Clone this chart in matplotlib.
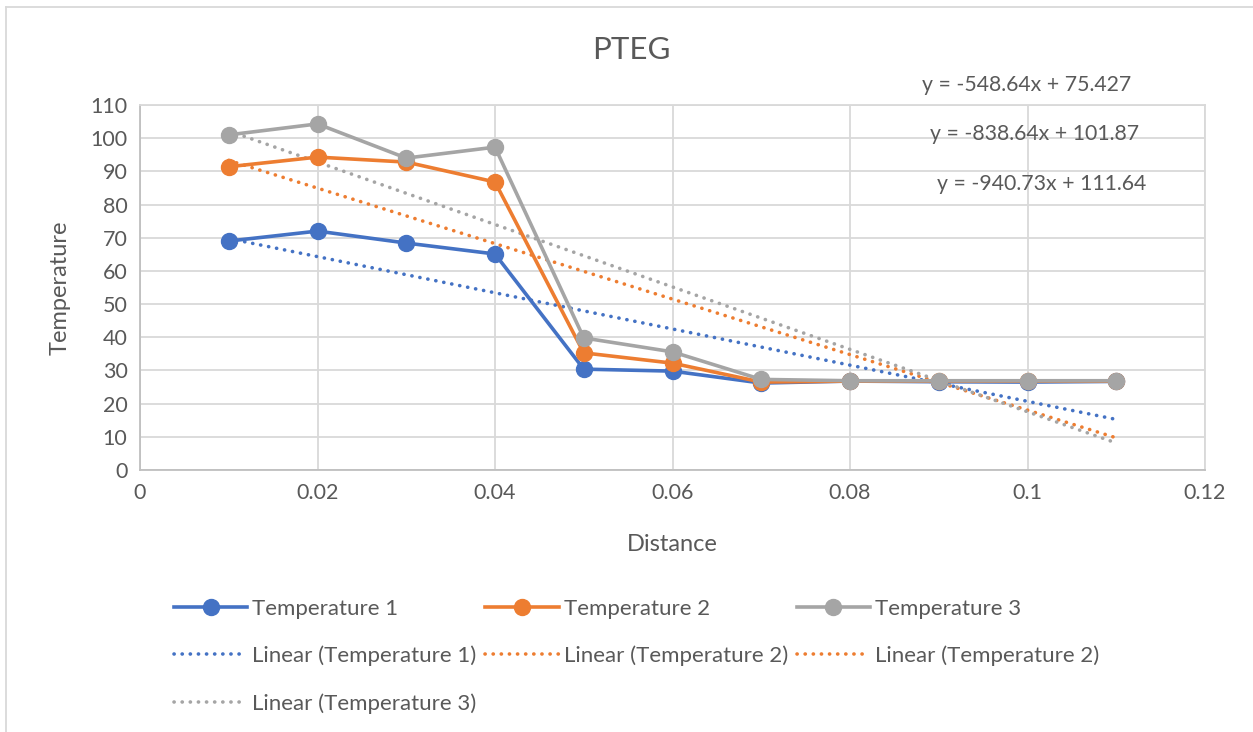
import matplotlib
matplotlib.use("Agg")
import matplotlib.pyplot as plt
import numpy as np
from matplotlib.lines import Line2D

plt.rcParams['font.family'] = ['Lato', 'DejaVu Sans']

# data
distance = [0.01, 0.02, 0.03, 0.04, 0.05, 0.06, 0.07, 0.08, 0.09, 0.10, 0.11]
temp1 = [69.0, 72.0, 68.4, 65.1, 30.4, 29.8, 26.2, 26.8, 26.6, 26.5, 26.7]
temp2 = [91.4, 94.3, 92.8, 86.8, 35.3, 32.2, 26.5, 26.8, 26.8, 26.8, 26.8]
temp3 = [101.0, 104.3, 94.0, 97.3, 39.8, 35.6, 27.3, 26.9, 26.9, 26.9, 26.9]
series_names = ["Temperature 1", "Temperature 2", "Temperature 3"]
equations = ["y = -548.64x + 75.427", "y = -838.64x + 101.87", "y = -940.73x + 111.64"]

colors = ["#4472C4", "#ED7D31", "#A5A5A5"]
txt = "#595959"
grid = "#D9D9D9"
dots = (0, (0.05, 2.2))

fig = plt.figure(figsize=(12.53, 7.32), dpi=100)
W, H = 1253, 732
ax = fig.add_axes([140 / W, 1 - 470 / H, 1065 / W, 365 / H])

x = np.array(distance)
handles = []
fits = []
for ys, c, name in zip([temp1, temp2, temp3], colors, series_names):
    h, = ax.plot(x, ys, color=c, lw=2.6, marker="o", ms=11.5, label=name, zorder=3)
    handles.append(h)
    m, b = np.polyfit(x, ys, 1)
    f, = ax.plot(x, m * x + b, color=c, lw=2.6, ls=dots,
                 dash_capstyle="round", label="Linear (%s)" % name, zorder=2)
    fits.append(f)

ax.set_xlim(0, 0.12)
ax.set_ylim(0, 110)
ax.set_xticks(np.arange(0, 0.121, 0.02))
ax.set_xticklabels(["0", "0.02", "0.04", "0.06", "0.08", "0.1", "0.12"])
ax.set_yticks(np.arange(0, 111, 10))
ax.grid(True, color=grid, lw=1.3)
ax.set_axisbelow(True)
for s in ax.spines.values():
    s.set_color(grid)
    s.set_linewidth(1.3)
ax.spines["left"].set_color("#BFBFBF")
ax.spines["bottom"].set_color("#BFBFBF")
ax.tick_params(length=0, labelsize=15.5, labelcolor=txt, pad=9)

ax.set_xlabel("Distance", fontsize=17, color=txt, labelpad=23)
ax.set_ylabel("Temperature", fontsize=17, color=txt, labelpad=14)
fig.text(631 / W, 1 - 50 / H, "PTEG", fontsize=22.5, color=txt, ha="center", va="center")

eq_pos = [(1027, 85), (1035, 134), (1042, 184)]
for (px, py), e in zip(eq_pos, equations):
    fig.text(px / W, 1 - py / H, e, fontsize=15.3, color=txt, ha="center", va="center")

# legend order fills column-wise: row1 T1 T2 T3, row2 L1 L2 L2, row3 L3
dup = Line2D([], [], color=colors[1], lw=2.6, ls=dots, dash_capstyle="round")
leg_handles = [handles[0], fits[0], fits[2], handles[1], fits[1], handles[2], dup]
leg_labels = [series_names[0], "Linear (Temperature 1)", "Linear (Temperature 3)",
              series_names[1], "Linear (Temperature 2)", series_names[2], "Linear (Temperature 2)"]
fig.legend(leg_handles, leg_labels, loc="upper left", bbox_to_anchor=(174 / W, 1 - 599 / H),
           ncol=3, frameon=False, fontsize=16, handlelength=3.3, handletextpad=0.22,
           columnspacing=0.4, labelspacing=1.2, labelcolor=txt, borderaxespad=0, borderpad=0)

# chart area border (top and left edges visible)
fig.add_artist(Line2D([6 / W, 1], [1 - 7 / H, 1 - 7 / H], color=grid, lw=1.3))
fig.add_artist(Line2D([6 / W, 6 / W], [0, 1 - 7 / H], color=grid, lw=1.3))

fig.savefig("out.png", dpi=100)
